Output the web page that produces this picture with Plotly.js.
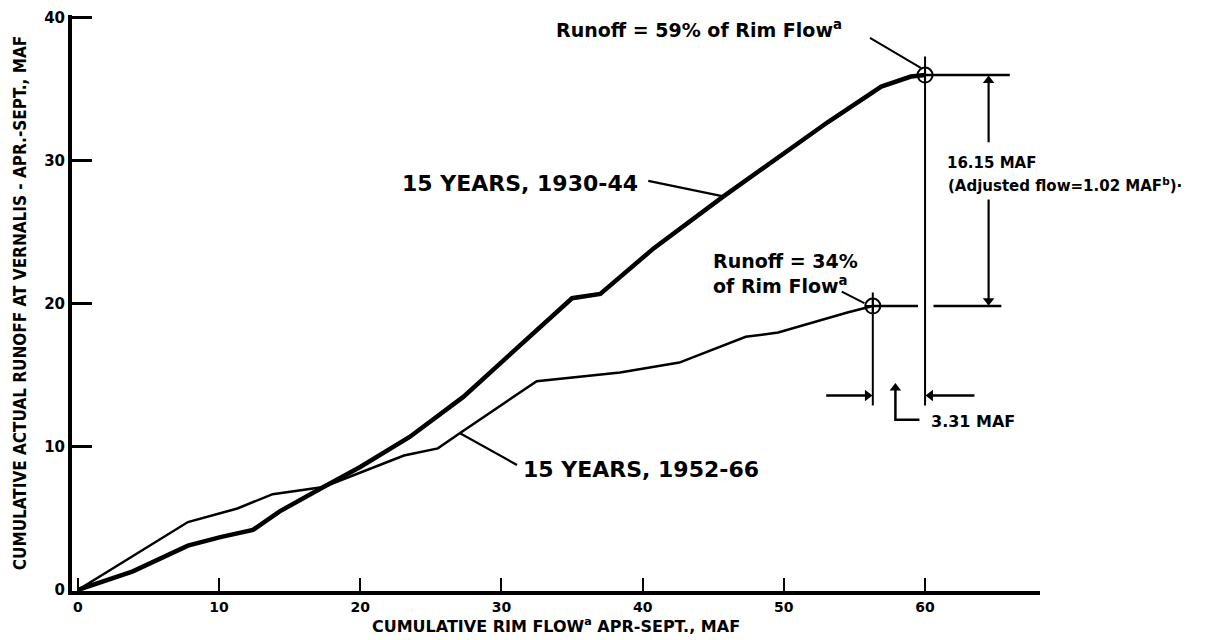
<!DOCTYPE html>
<html>
<head>
<meta charset="utf-8">
<script src="https://cdn.plot.ly/plotly-3.0.1.min.js"></script>
<style>html,body{margin:0;padding:0;background:#fff;}#chart{width:1212px;height:640px;}</style>
</head>
<body>
<div id="chart"></div>
<script>
// Cumulative rim flow (x) and cumulative actual runoff at Vernalis (y), MAF
const rimFlow1930 = [0, 3.9, 7.8, 10.1, 12.4, 14.3, 17.4, 20.0, 23.5, 27.3, 35.0, 37.0, 40.8, 45.7, 53.1, 56.9, 59.0, 60.0];
const runoff1930  = [0, 1.3, 3.1, 3.7, 4.2, 5.5, 7.2, 8.6, 10.7, 13.5, 20.4, 20.7, 23.9, 27.5, 32.7, 35.2, 35.9, 36.0];
const rimFlow1952 = [0, 7.8, 11.3, 13.8, 17.4, 20.0, 23.1, 25.5, 27.1, 32.5, 38.4, 42.6, 47.3, 49.6, 54.5, 56.3];
const runoff1952  = [0, 4.75, 5.7, 6.7, 7.2, 8.2, 9.4, 9.9, 11.0, 14.6, 15.2, 15.9, 17.7, 18.0, 19.4, 19.85];
const endRimFlow = [60.0, 56.3];
const endRunoff  = [36.0, 19.85];
const seriesNames = ["15 YEARS, 1930-44", "15 YEARS, 1952-66"];
const xTicks = [0, 10, 20, 30, 40, 50, 60];
const yTicks = [0, 10, 20, 30, 40];

const F = "DejaVu Sans, Liberation Sans, sans-serif";
const FC = "DejaVu Sans Condensed, DejaVu Sans, sans-serif";
const black = "#000";

function seg(xs, ys, w) {
  return {x: xs, y: ys, mode: "lines", line: {color: black, width: w}, hoverinfo: "skip"};
}
function heads(xs, ys, symbols) {
  return {x: xs, y: ys, mode: "markers", hoverinfo: "skip",
          marker: {symbol: symbols, size: 10, color: black, line: {width: 0}}};
}
const hd = 0.38; // arrowhead centre offset from its tip (axis units)

const traces = [
  {x: rimFlow1930, y: runoff1930, mode: "lines", name: seriesNames[0],
   line: {color: black, width: 4.5}, hoverinfo: "skip"},
  {x: rimFlow1952, y: runoff1952, mode: "lines", name: seriesNames[1],
   line: {color: black, width: 2.5}, hoverinfo: "skip"},
  // horizontal extension lines from the end points
  seg([endRimFlow[0], 66.0], [endRunoff[0], endRunoff[0]], 2.5),
  seg([endRimFlow[1], 59.5, null, 60.6, 65.4], [endRunoff[1], endRunoff[1], null, endRunoff[1], endRunoff[1]], 2.5),
  // vertical dimension lines
  seg([endRimFlow[0], endRimFlow[0]], [37.3, 12.9], 2),
  seg([endRimFlow[1], endRimFlow[1]], [20.8, 12.9], 2),
  // 16.15 MAF dimension shafts
  seg([64.5, 64.5], [31.3, endRunoff[0] - hd], 2.2),
  seg([64.5, 64.5], [27.3, endRunoff[1] + hd], 2.2),
  // 3.31 MAF dimension shafts
  seg([53.0, endRimFlow[1] - hd], [13.6, 13.6], 2.5),
  seg([63.5, endRimFlow[0] + hd], [13.6, 13.6], 2.5),
  // small L leader for 3.31 MAF
  seg([57.9, 57.9, 59.6], [14.2, 11.9, 11.9], 2.5),
  // label leaders
  seg([40.4, 45.8], [28.6, 27.5], 2.2),
  seg([31.1, 27.07], [8.74, 10.96], 2.2),
  seg([56.1, 59.7], [38.6, 36.5], 2),
  seg([54.1, 55.7], [20.86, 20.05], 2),
  // arrowheads
  heads([64.5, 64.5, endRimFlow[1] - hd, endRimFlow[0] + hd, 57.9],
        [endRunoff[0] - hd, endRunoff[1] + hd, 13.6, 13.6, 14.5 - hd],
        ["triangle-up", "triangle-down", "triangle-right", "triangle-left", "triangle-up"]),
  // end point markers
  {x: endRimFlow, y: endRunoff, mode: "markers", hoverinfo: "skip",
   marker: {symbol: "circle-cross-open", size: 15, color: black, line: {color: black, width: 2}}}
];

function label(x, y, text, size) {
  return {x: x, y: y, xref: "x", yref: "y", text: text, showarrow: false,
          xanchor: "left", yanchor: "middle", align: "left",
          font: {family: F, size: size, color: black, weight: "bold"}};
}

const annotations = [
  label(33.7, 39.2, "Runoff = 59% of Rim Flow<sup>a</sup>", 19),
  label(22.8, 28.4, seriesNames[0], 22),
  label(31.4, 8.4, seriesNames[1], 22),
  label(44.85, 22.1, "Runoff = 34%<br>of Rim Flow<sup>a</sup>", 19),
  label(61.4, 29.86, "16.15 MAF", 15),
  label(61.5, 28.3, "(Adjusted flow=1.02 MAF<sup>b</sup>)·", 15),
  label(60.3, 11.8, "3.31 MAF", 16)
];

const layout = {
  width: 1212, height: 640,
  margin: {l: 72, r: 172, t: 15, b: 49},
  paper_bgcolor: "#fff", plot_bgcolor: "#fff",
  showlegend: false,
  font: {family: F, color: black},
  xaxis: {
    range: [-0.41, 68.14], tickvals: xTicks, ticktext: xTicks.map(String),
    showgrid: false, zeroline: false, showline: true, linecolor: black, linewidth: 4,
    ticks: "inside", ticklen: 13, tickwidth: 2, tickcolor: black,
    tickfont: {family: F, size: 14, color: black, weight: "bold"},
    title: {text: "CUMULATIVE RIM FLOW<sup>a</sup> APR-SEPT., MAF", standoff: 4,
            font: {family: F, size: 16, color: black, weight: "bold"}}
  },
  yaxis: {
    range: [-0.07, 40.2], tickvals: yTicks, ticktext: yTicks.map(String),
    showgrid: false, zeroline: false, showline: true, linecolor: black, linewidth: 4,
    ticks: "inside", ticklen: 20, tickwidth: 3, tickcolor: black,
    tickfont: {family: F, size: 15, color: black, weight: "bold"},
    title: {text: "CUMULATIVE ACTUAL RUNOFF AT VERNALIS - APR.-SEPT., MAF", standoff: 14,
            font: {family: FC, size: 17, color: black, weight: "bold"}}
  },
  annotations: annotations
};

Plotly.newPlot("chart", traces, layout, {displayModeBar: false, staticPlot: true});
</script>
</body>
</html>
